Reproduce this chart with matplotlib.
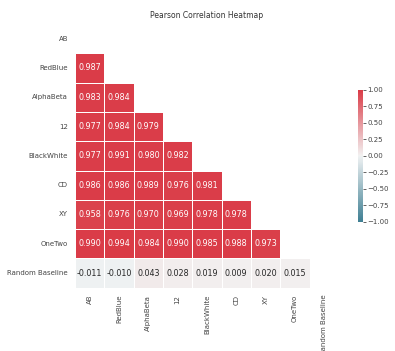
import matplotlib
matplotlib.use("Agg")
import matplotlib.pyplot as plt
import numpy as np
import seaborn as sns

labels = ["AB", "RedBlue", "AlphaBeta", "12", "BlackWhite", "CD", "XY",
          "OneTwo", "Random Baseline"]
# lower triangle, row by row (row i has i values)
row_redblue = [0.987]
row_alphabeta = [0.983, 0.984]
row_12 = [0.977, 0.984, 0.979]
row_blackwhite = [0.977, 0.991, 0.980, 0.982]
row_cd = [0.986, 0.986, 0.989, 0.976, 0.981]
row_xy = [0.958, 0.976, 0.970, 0.969, 0.978, 0.978]
row_onetwo = [0.990, 0.994, 0.984, 0.990, 0.985, 0.988, 0.973]
row_random = [-0.011, -0.010, 0.043, 0.028, 0.019, 0.009, 0.020, 0.015]

rows = [[], row_redblue, row_alphabeta, row_12, row_blackwhite, row_cd,
        row_xy, row_onetwo, row_random]
n = len(labels)
corr = np.eye(n)
for i, r in enumerate(rows):
    for j, v in enumerate(r):
        corr[i, j] = v
        corr[j, i] = v

sns.set_theme(style="white")
plt.rcParams["font.family"] = ["DejaVu Sans"]

fig = plt.figure(figsize=(3.95, 3.51), dpi=100)
ax = fig.add_axes([0.19, 0.18, 0.668, 0.752])
cax = fig.add_axes([0.906, 0.368, 0.013, 0.376])

mask = np.triu(np.ones_like(corr, dtype=bool))
cmap = sns.diverging_palette(220, 10, as_cmap=True)
sns.heatmap(corr, mask=mask, cmap=cmap, vmax=1, vmin=-1, center=0,
            square=True, linewidths=.4, annot=True, fmt=".3f",
            annot_kws={"size": 5.8}, xticklabels=labels, yticklabels=labels,
            ax=ax, cbar_ax=cax)
ax.tick_params(labelsize=5, length=0, pad=5, labelcolor="#444444")
ax.set_xticklabels(labels, rotation=90)
ax.set_yticklabels(labels, rotation=0)
cax.tick_params(labelsize=5, length=2, width=0.5, pad=1, labelcolor="#444444")
ax.set_title("Pearson Correlation Heatmap", fontsize=5.5, pad=4,
             color="#333333")

fig.savefig("out.png", dpi=100)
